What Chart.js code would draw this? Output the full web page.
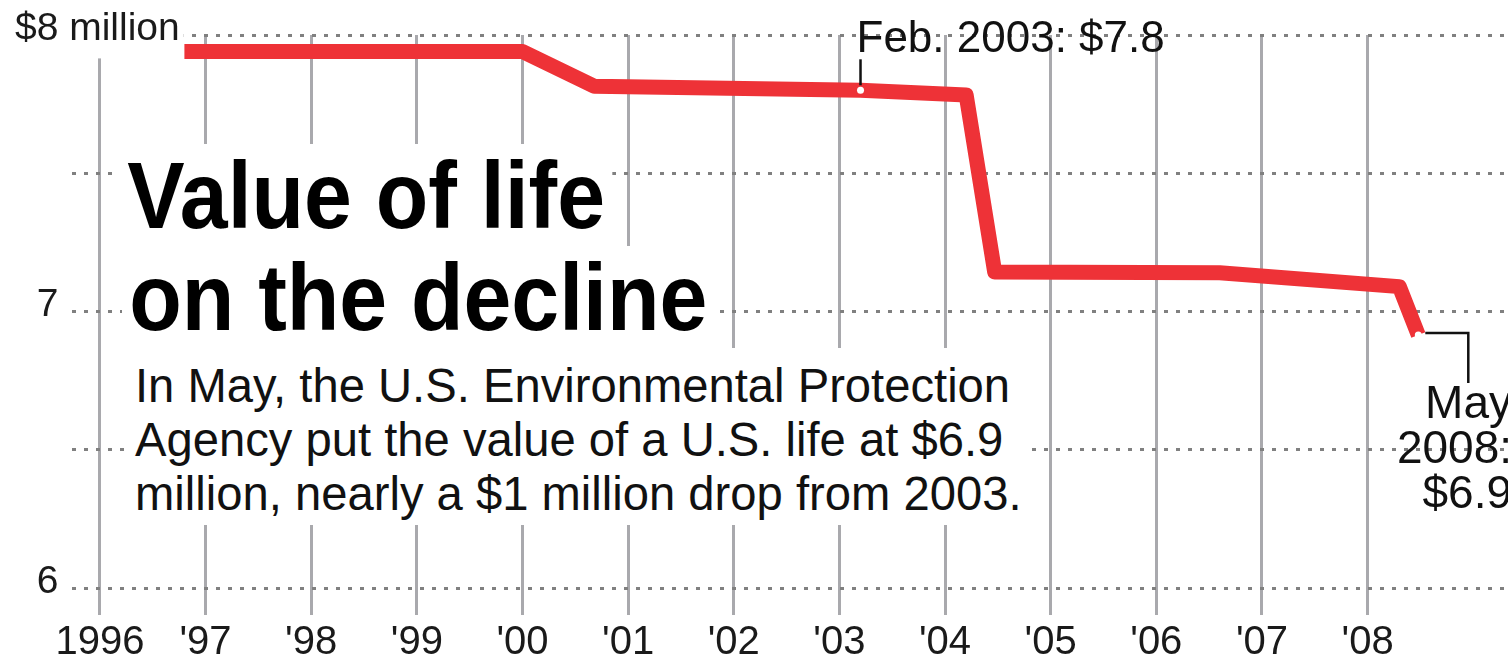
<!DOCTYPE html>
<html><head><meta charset="utf-8">
<script src="https://cdn.jsdelivr.net/npm/chart.js@4.4.1/dist/chart.umd.min.js"></script>
<style>
html,body{margin:0;padding:0;background:#fff;}
#wrap{position:relative;width:1508px;height:660px;overflow:hidden;}
canvas{position:absolute;left:0;top:0;}
.t{position:absolute;background:#fff;font-family:"Liberation Sans",Arial,sans-serif;color:#000;white-space:nowrap;}
.title{font-weight:bold;font-size:95px;line-height:102px;transform:scaleX(0.905);transform-origin:0 0;padding:0 8px;}
.para{font-size:47.2px;line-height:54px;color:#111;padding:11px 10px 4px 10px;}
</style></head>
<body><div id="wrap"><canvas id="c" width="1508" height="660"></canvas>
<div class="t title" style="left:120px;top:144px;">Value of life</div>
<div class="t title" style="left:122px;top:246px;">on the decline</div>
<div class="t para" style="left:125px;top:348px;">In May, the U.S. Environmental Protection<br>Agency put the value of a U.S. life at $6.9<br>million, nearly a $1 million drop from 2003.</div>
</div>
<script>
// ---- data ----
const xTickValues = [1996,1997,1998,1999,2000,2001,2002,2003,2004,2005,2006,2007,2008];
const xTickLabels = ['1996',"'97","'98","'99","'00","'01","'02","'03","'04","'05","'06","'07","'08"];
const yTickValues = [6,6.5,7,7.5,8];
const yTickLabels = ['6','','7','','$8 million'];
const years  = [1996.8, 2000.0, 2000.68, 2003.2, 2004.2, 2004.47, 2006.6, 2008.3, 2008.48];
const values = [7.94,   7.94,   7.815,   7.80,   7.783,  7.143,   7.14,   7.09,   6.915];
const markedIdx = [3, 8];
const febLabel = 'Feb. 2003: $7.8';
const mayLabel = ['May', '2008:', '$6.9'];

const X_MIN = 1995.736, X_MAX = 2009.296;
const FONT = '"Liberation Sans", Arial, sans-serif';

const annot = {
  id: 'annot',
  afterDatasetsDraw(chart) {
    const {ctx, scales: {x, y}} = chart;
    ctx.save();
    ctx.strokeStyle = '#111'; ctx.fillStyle = '#111'; ctx.lineWidth = 2.5;
    // Feb 2003 callout
    const fx = x.getPixelForValue(years[markedIdx[0]]);
    const fy = y.getPixelForValue(values[markedIdx[0]]);
    ctx.beginPath(); ctx.moveTo(fx, fy - 5); ctx.lineTo(fx, fy - 31); ctx.stroke();
    ctx.font = '44px ' + FONT; ctx.textAlign = 'left'; ctx.textBaseline = 'alphabetic';
    ctx.fillText(febLabel, fx - 4, fy - 38);
    // May 2008 callout
    const mx = x.getPixelForValue(years[markedIdx[1]]);
    const my = y.getPixelForValue(values[markedIdx[1]]);
    ctx.beginPath(); ctx.moveTo(mx + 7, my - 2); ctx.lineTo(mx + 50, my - 2); ctx.lineTo(mx + 50, my + 48); ctx.stroke();
    ctx.font = '46px ' + FONT; ctx.textAlign = 'right';
    mayLabel.forEach((s, i) => ctx.fillText(s, chart.width + 4, my + 83 + i * 45));
    ctx.restore();
  }
};

new Chart(document.getElementById('c'), {
  type: 'line',
  data: { datasets: [{
    data: years.map((t, i) => ({x: t, y: values[i]})),
    borderColor: '#ee3237', borderWidth: 15, borderCapStyle: 'butt', borderJoinStyle: 'round',
    tension: 0, fill: false,
    pointRadius: years.map((_, i) => markedIdx.includes(i) ? 3.5 : 0),
    pointBackgroundColor: '#fff', pointBorderWidth: 0, pointHoverRadius: 0
  }]},
  options: {
    responsive: false, animation: false, devicePixelRatio: 1, events: [],
    layout: { padding: { left: 15, top: 35, right: 0, bottom: 0 } },
    plugins: { legend: { display: false }, tooltip: { enabled: false } },
    scales: {
      x: {
        type: 'linear', min: X_MIN, max: X_MAX,
        afterBuildTicks: s => { s.ticks = xTickValues.map(v => ({value: v})); },
        afterFit: s => { s.height = 72; },
        grid: { color: '#a9a9ad', lineWidth: 3, drawTicks: true, tickLength: 27, z: -1 },
        border: { display: false },
        ticks: { autoSkip: false, maxRotation: 0, minRotation: 0, padding: 4, color: '#1a1a1a',
          font: { family: FONT, size: 40 },
          callback: v => { const i = xTickValues.indexOf(v); return i >= 0 ? xTickLabels[i] : ''; } }
      },
      y: {
        min: 6, max: 8,
        afterBuildTicks: s => { s.ticks = yTickValues.map(v => ({value: v})); },
        afterFit: s => { s.width = 57; },
        grid: { color: '#808080', lineWidth: 3, drawTicks: false, z: -1 },
        border: { display: false, dash: [4, 8] },
        ticks: { mirror: true, crossAlign: 'near', padding: -57, labelOffset: -6, color: '#1a1a1a',
          font: { family: FONT, size: 39 },
          showLabelBackdrop: true, backdropColor: '#fff',
          backdropPadding: { left: 0, right: 4, top: 4, bottom: 6 },
          callback: v => { const i = yTickValues.indexOf(v); const l = i >= 0 ? yTickLabels[i] : ''; return l.length === 1 ? '  ' + l : l; } }
      }
    }
  },
  plugins: [annot]
});
</script>
</body></html>
